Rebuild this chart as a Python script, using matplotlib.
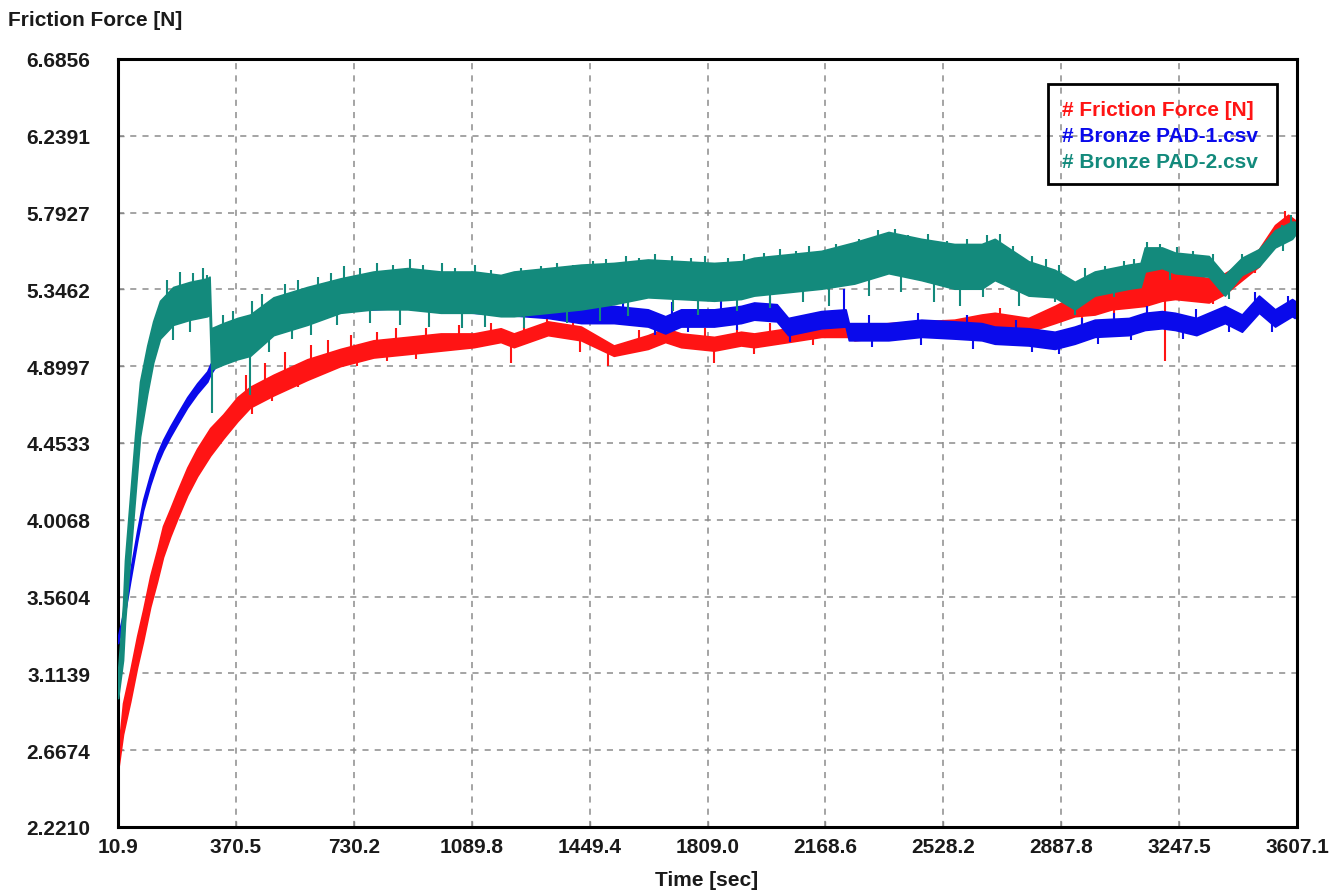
import matplotlib
matplotlib.use("Agg")
import matplotlib.pyplot as plt
from matplotlib.patches import Rectangle
import numpy as np

FONT = ['Liberation Sans Narrow', 'Liberation Sans', 'DejaVu Sans']

# ---------------- data ----------------
x_tick_labels = ["10.9", "370.5", "730.2", "1089.8", "1449.4", "1809.0",
                 "2168.6", "2528.2", "2887.8", "3247.5", "3607.1"]
y_tick_labels = ["2.2210", "2.6674", "3.1139", "3.5604", "4.0068", "4.4533",
                 "4.8997", "5.3462", "5.7927", "6.2391", "6.6856"]
x_min, x_max = 10.9, 3607.1
y_min, y_max = 2.2210, 6.6856

# Friction Force [N] (red): time, mean level, noise half-width
red_t = [10.9, 26, 48, 69, 87, 109, 130, 148, 170, 191, 222, 252, 292, 332, 375,
         414, 485, 588, 689, 790, 894, 995, 1096, 1178, 1218, 1322, 1423, 1523,
         1627, 1680, 1728, 1829, 1911, 1951, 2055, 2156, 2240, 2257, 2361, 2461,
         2562, 2645, 2685, 2788, 2868, 2929, 2990, 3042, 3094, 3143, 3195, 3235,
         3338, 3387, 3439, 3491, 3540, 3580, 3600]
red_v = [2.60, 2.85, 3.04, 3.24, 3.39, 3.59, 3.74, 3.88, 3.99, 4.09, 4.23, 4.34,
         4.46, 4.55, 4.65, 4.72, 4.79, 4.88, 4.95, 5.00, 5.02, 5.04, 5.05, 5.08,
         5.05, 5.12, 5.09, 4.99, 5.04, 5.08, 5.05, 5.03, 5.06, 5.05, 5.08, 5.11,
         5.11, 5.09, 5.11, 5.12, 5.13, 5.15, 5.16, 5.14, 5.20, 5.25, 5.27, 5.31,
         5.34, 5.36, 5.38, 5.37, 5.34, 5.38, 5.45, 5.53, 5.67, 5.74, 5.72]
red_w = [0.05, 0.09, 0.09, 0.09, 0.09, 0.09, 0.09, 0.09, 0.08, 0.08, 0.08, 0.08,
         0.08, 0.07, 0.07, 0.06, 0.06, 0.06, 0.05, 0.05, 0.05, 0.05, 0.04, 0.04,
         0.04, 0.04, 0.04, 0.03, 0.04, 0.04, 0.04, 0.04, 0.04, 0.04, 0.04, 0.04,
         0.04, 0.04, 0.04, 0.04, 0.04, 0.05, 0.05, 0.04, 0.05, 0.06, 0.07, 0.08,
         0.10, 0.11, 0.10, 0.08, 0.07, 0.06, 0.05, 0.05, 0.05, 0.04, 0.03]

# Bronze PAD-1.csv (blue)
blue_t = [10.9, 26, 48, 69, 87, 109, 130, 148, 170, 191, 222, 252, 283, 292, 332,
          375, 414, 485, 588, 689, 790, 894, 995, 1096, 1178, 1322, 1423, 1523,
          1627, 1680, 1728, 1829, 1911, 1951, 2020, 2055, 2156, 2230, 2240, 2257,
          2361, 2461, 2562, 2645, 2685, 2788, 2868, 2929, 2990, 3094, 3143, 3195,
          3235, 3300, 3387, 3439, 3491, 3540, 3592, 3600]
blue_v = [3.31, 3.43, 3.68, 3.91, 4.09, 4.24, 4.36, 4.44, 4.52, 4.59, 4.69, 4.77,
          4.84, 4.88, 5.00, 5.08, 5.14, 5.22, 5.26, 5.27, 5.27, 5.28, 5.26, 5.25,
          5.24, 5.22, 5.20, 5.20, 5.18, 5.14, 5.18, 5.18, 5.20, 5.22, 5.21, 5.13,
          5.17, 5.18, 5.10, 5.10, 5.10, 5.12, 5.11, 5.10, 5.08, 5.07, 5.05, 5.08,
          5.12, 5.13, 5.16, 5.17, 5.16, 5.13, 5.20, 5.15, 5.26, 5.18, 5.24, 5.23]
blue_w = [0.02, 0.03, 0.03, 0.03, 0.03, 0.03, 0.03, 0.03, 0.03, 0.03, 0.03, 0.03,
          0.03, 0.03, 0.03, 0.04, 0.04, 0.04, 0.04, 0.04, 0.04, 0.04, 0.04, 0.04,
          0.04, 0.04, 0.05, 0.05, 0.05, 0.05, 0.05, 0.05, 0.05, 0.05, 0.05, 0.05,
          0.05, 0.05, 0.05, 0.05, 0.05, 0.05, 0.05, 0.05, 0.05, 0.05, 0.05, 0.05,
          0.05, 0.05, 0.05, 0.05, 0.05, 0.05, 0.05, 0.05, 0.05, 0.05, 0.05, 0.05]

# Bronze PAD-2.csv (teal)
teal_t = [10.9, 26, 32, 48, 63, 78, 100, 118, 139, 179, 231, 283, 290, 295, 332,
          375, 414, 485, 588, 689, 790, 894, 995, 1096, 1178, 1218, 1322, 1423,
          1523, 1627, 1728, 1829, 1911, 1951, 2055, 2156, 2257, 2361, 2461, 2562,
          2645, 2685, 2788, 2868, 2929, 2990, 3094, 3130, 3143, 3195, 3235, 3338,
          3387, 3439, 3491, 3540, 3592, 3600]
teal_v = [3.05, 3.35, 3.59, 3.97, 4.32, 4.65, 4.88, 5.04, 5.17, 5.25, 5.28, 5.30,
          5.31, 5.00, 5.03, 5.06, 5.08, 5.19, 5.25, 5.31, 5.34, 5.35, 5.33, 5.33,
          5.31, 5.32, 5.34, 5.36, 5.38, 5.41, 5.40, 5.39, 5.40, 5.42, 5.44, 5.46,
          5.50, 5.56, 5.52, 5.48, 5.48, 5.52, 5.41, 5.38, 5.31, 5.38, 5.42, 5.43,
          5.52, 5.53, 5.50, 5.48, 5.37, 5.48, 5.53, 5.64, 5.69, 5.70]
teal_w = [0.08, 0.16, 0.18, 0.18, 0.18, 0.16, 0.14, 0.12, 0.11, 0.11, 0.11, 0.11,
          0.11, 0.12, 0.12, 0.12, 0.12, 0.11, 0.11, 0.10, 0.11, 0.12, 0.12, 0.12,
          0.12, 0.13, 0.13, 0.13, 0.12, 0.11, 0.11, 0.11, 0.11, 0.11, 0.11, 0.11,
          0.12, 0.12, 0.12, 0.13, 0.13, 0.12, 0.10, 0.08, 0.08, 0.07, 0.07, 0.07,
          0.07, 0.06, 0.06, 0.06, 0.06, 0.05, 0.05, 0.05, 0.05, 0.04]

# noise spikes seen on the traces: time, spike tip value
red_spike_t = [400, 420, 460, 480, 520, 560, 600, 640, 650, 720, 740, 800, 830,
               860, 920, 950, 1050, 1150, 1209, 1250, 1320, 1400, 1420, 1505,
               1600, 1680, 1800, 1829, 1900, 1950, 2000, 2100, 2130, 2200, 2600,
               2700, 2900, 2950, 3000, 3050, 3060, 3120, 3150, 3180, 3203, 3230,
               3300, 3350, 3450, 3480, 3520, 3570]
red_spike_v = [4.85, 4.62, 4.92, 4.70, 4.98, 4.78, 5.02, 4.86, 5.05, 5.08, 4.90,
               5.10, 4.93, 5.12, 4.94, 5.12, 5.14, 5.15, 4.92, 5.13, 5.18, 5.16,
               4.98, 4.90, 5.11, 5.14, 5.12, 4.92, 5.13, 4.97, 5.15, 5.18, 5.02,
               5.19, 5.20, 5.24, 5.35, 5.12, 5.40, 5.16, 5.44, 5.49, 5.20, 5.50,
               4.93, 5.47, 5.46, 5.26, 5.52, 5.44, 5.64, 5.80]
blue_spike_t = [1550, 1650, 1700, 1750, 1850, 1900, 2000, 2060, 2226, 2300, 2310,
                2450, 2460, 2600, 2620, 2750, 2800, 2880, 2950, 3000, 3050, 3100,
                3150, 3260, 3300, 3400, 3480, 3530, 3580]
blue_spike_v = [5.30, 5.08, 5.27, 5.10, 5.28, 5.11, 5.30, 5.04, 5.35, 5.20, 5.01,
                5.21, 5.02, 5.20, 5.00, 5.17, 4.98, 4.97, 5.18, 5.03, 5.21, 5.05,
                5.25, 5.06, 5.23, 5.10, 5.33, 5.10, 5.31]
teal_spike_t = [160, 180, 200, 230, 240, 270, 283, 298, 330, 360, 414, 420, 450,
                470, 520, 540, 560, 600, 620, 660, 680, 700, 750, 780, 800, 850,
                870, 900, 940, 960, 1000, 1040, 1060, 1100, 1130, 1150, 1240, 1250,
                1300, 1350, 1380, 1400, 1460, 1480, 1500, 1560, 1565, 1600, 1650,
                1700, 1705, 1760, 1780, 1800, 1870, 1900, 1920, 1980, 2000, 2030,
                2080, 2100, 2120, 2180, 2200, 2270, 2300, 2330, 2380, 2400, 2420,
                2480, 2500, 2540, 2580, 2600, 2650, 2660, 2700, 2740, 2760, 2800,
                2840, 2870, 2880, 2930, 2960, 3020, 3050, 3080, 3110, 3150, 3190,
                3220, 3240, 3290, 3350, 3400, 3440, 3500, 3560, 3565, 3590]
teal_spike_v = [5.40, 5.05, 5.45, 5.10, 5.44, 5.47, 5.43, 4.63, 5.20, 5.22, 4.73,
                5.28, 5.32, 4.98, 5.38, 5.06, 5.40, 5.08, 5.42, 5.44, 5.14, 5.48,
                5.47, 5.15, 5.50, 5.49, 5.14, 5.52, 5.49, 5.13, 5.50, 5.47, 5.12,
                5.49, 5.13, 5.46, 5.47, 5.12, 5.48, 5.50, 5.15, 5.49, 5.51, 5.16,
                5.52, 5.54, 5.19, 5.53, 5.55, 5.54, 5.22, 5.53, 5.20, 5.54, 5.53,
                5.22, 5.55, 5.56, 5.24, 5.58, 5.57, 5.27, 5.60, 5.25, 5.61, 5.64,
                5.31, 5.69, 5.70, 5.33, 5.66, 5.67, 5.27, 5.63, 5.25, 5.64, 5.30,
                5.66, 5.67, 5.60, 5.25, 5.54, 5.52, 5.27, 5.49, 5.20, 5.47, 5.48,
                5.30, 5.51, 5.52, 5.62, 5.61, 5.40, 5.59, 5.57, 5.55, 5.29, 5.55,
                5.60, 5.72, 5.57, 5.78]

legend_labels = ["# Friction Force [N]", "# Bronze PAD-1.csv", "# Bronze PAD-2.csv"]

RED = "#ff1414"
BLUE = "#0a0aeb"
TEAL = "#138a7c"

# ---------------- figure ----------------
fig = plt.figure(figsize=(13.37, 8.95), dpi=100)
ax = fig.add_axes([0.0883, 0.0749, 0.8818, 0.8581])
ax.set_xlim(x_min, x_max)
ax.set_ylim(y_min, y_max)

xt = np.linspace(x_min, x_max, len(x_tick_labels))
yt = np.linspace(y_min, y_max, len(y_tick_labels))
ax.set_xticks(xt)
ax.set_yticks(yt)
ax.set_xticklabels(x_tick_labels)
ax.set_yticklabels(y_tick_labels)
for lab in ax.get_xticklabels() + ax.get_yticklabels():
    lab.set_family(FONT)
    lab.set_fontweight('bold')
    lab.set_fontsize(15)
    lab.set_color('#1a1a1a')
ax.tick_params(axis='both', direction='in', length=4, width=1, color='#888888')
ax.tick_params(axis='y', pad=20)
ax.tick_params(axis='x', pad=7)

ax.grid(True, color='#8c8c8c', linestyle=(0, (4, 4)), linewidth=1.1)
ax.set_axisbelow(True)
for sp in ax.spines.values():
    sp.set_linewidth(2.2)
    sp.set_color('black')


def draw(t, v, w, st, sv, color, z):
    t = np.asarray(t, float)
    v = np.asarray(v, float)
    w = np.asarray(w, float)
    ax.fill_between(t, v - w, v + w, color=color, lw=1.2, zorder=z)
    base = np.interp(st, t, v)
    ax.vlines(st, base, sv, color=color, lw=1.5, zorder=z)


draw(red_t, red_v, red_w, red_spike_t, red_spike_v, RED, 2)
draw(blue_t, blue_v, blue_w, blue_spike_t, blue_spike_v, BLUE, 3)
draw(teal_t, teal_v, teal_w, teal_spike_t, teal_spike_v, TEAL, 4)

# legend box (transparent, grid shows through)
ax.add_patch(Rectangle((0.789, 0.837), 0.194, 0.130, transform=ax.transAxes,
                       fill=False, edgecolor='black', lw=2, zorder=6))
for i, (lab, c) in enumerate(zip(legend_labels, [RED, BLUE, TEAL])):
    ax.text(0.801, 0.934 - i * 0.034, lab, transform=ax.transAxes, color=c,
            fontsize=15, fontweight='bold', family=FONT, va='center', ha='left',
            zorder=7)

fig.text(8 / 1337, 1 - 20 / 895, "Friction Force [N]", fontsize=15,
         fontweight='bold', family=FONT, va='center', ha='left', color='#1a1a1a')
fig.text(707 / 1337, 1 - 881 / 895, "Time [sec]", fontsize=15,
         fontweight='bold', family=FONT, va='center', ha='center', color='#1a1a1a')

fig.savefig("out.png", dpi=100)
